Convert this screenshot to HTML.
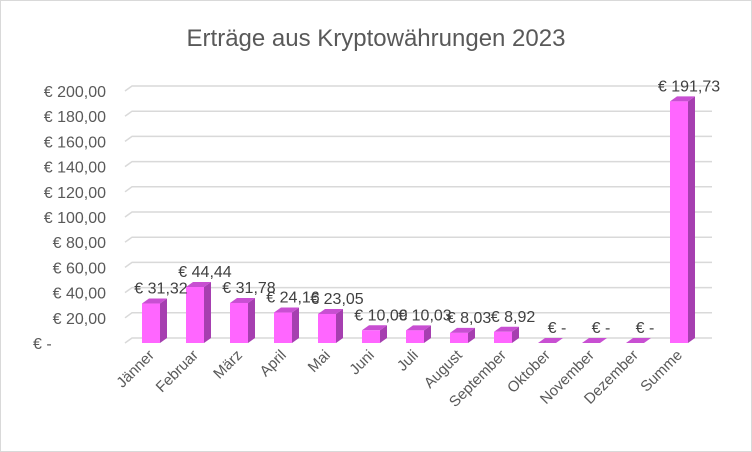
<!DOCTYPE html>
<html><head><meta charset="utf-8"><style>
body{margin:0;background:#fff}
svg{display:block;font-family:"Liberation Sans",Calibri,sans-serif}
</style></head><body>
<svg id="c" width="752" height="452">
<rect x="0.5" y="0.5" width="751" height="451" fill="#fff" stroke="#d9d9d9"/>
<text x="376" y="46" text-anchor="middle" font-size="24" fill="#595959">Erträge aus Kryptowährungen 2023</text>
<g id="grid"></g><g id="bars"></g><g id="labels"></g>
</svg>
<script>
const categories=["Jänner","Februar","März","April","Mai","Juni","Juli","August","September","Oktober","November","Dezember","Summe"];
const values=[31.32,44.44,31.78,24.16,23.05,10.09,10.03,8.03,8.92,0,0,0,191.73];
const valueLabels=["€  31,32","€  44,44","€  31,78","€  24,16","€  23,05","€  10,09","€  10,03","€  8,03","€  8,92","€ -","€ -","€ -","€  191,73"];
const ticks=[0,20,40,60,80,100,120,140,160,180,200];
const tickLabels=["€ -","€ 20,00","€ 40,00","€ 60,00","€ 80,00","€ 100,00","€ 120,00","€ 140,00","€ 160,00","€ 180,00","€ 200,00"];
const NS="http://www.w3.org/2000/svg";
const y0=343,k=1.26,dx=7,dy=5;
const yS=v=>y0-v*k;
const xS=i=>151+i*44;
function mk(t,a,p){const e=document.createElementNS(NS,t);for(const n in a)e.setAttribute(n,a[n]);p.appendChild(e);return e;}
const g=document.getElementById('grid'),b=document.getElementById('bars'),l=document.getElementById('labels');
ticks.forEach((t,i)=>{
 const y=yS(t);
 const p=mk('path',{d:`M125 ${y} L${125+dx} ${y-dy} L712 ${y-dy}`,fill:'none',stroke:'#d9d9d9','stroke-width':1.5},g);
 
 
 const tx=mk('text',{x:i===0?33:106,y:y+6,'text-anchor':i===0?'start':'end','font-size':16,fill:'#595959'},l);
 tx.textContent=tickLabels[i];
 
 
});
values.forEach((v,i)=>{
 const x=xS(i)-9,w=18,top=yS(v);
 const grp=mk('g',{},b);
 
 
 mk('polygon',{points:`${x+w},${top} ${x+w+dx},${top-dy} ${x+w+dx},${y0-dy} ${x+w},${y0}`,fill:'#a63fb0'},grp);
 mk('polygon',{points:`${x},${top} ${x+dx},${top-dy} ${x+w+dx},${top-dy} ${x+w},${top}`,fill:'#c84fd2'},grp);
 mk('rect',{x:x,y:top,width:w,height:y0-top,fill:'#ff66ff'},grp);
 const vt=mk('text',{x:xS(i)+10,y:top-10,'text-anchor':'middle','font-size':16,fill:'#404040'},l);
 vt.textContent=valueLabels[i];
 
 
 const ct=mk('text',{x:xS(i)+4,y:356,'text-anchor':'end','font-size':15,fill:'#595959',transform:`rotate(-45 ${xS(i)+4} 356)`},l);
 ct.textContent=categories[i];
 
 
});
</script>
</body></html>
